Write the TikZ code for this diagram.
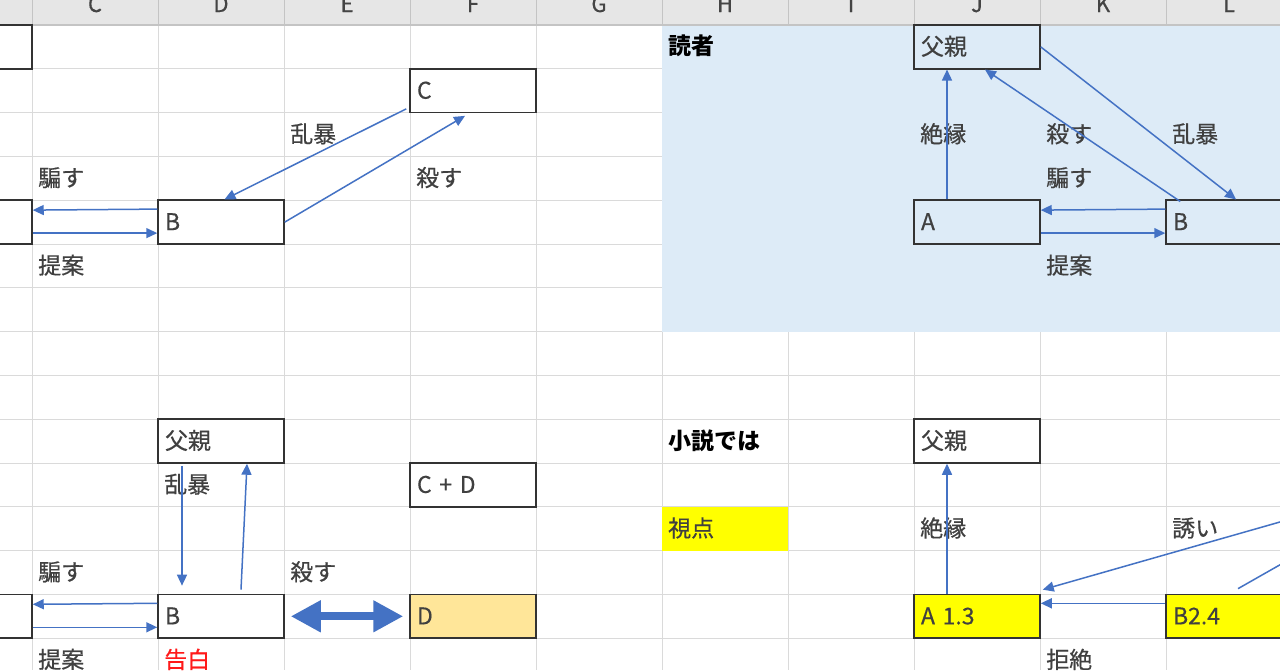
\documentclass[tikz,border=0pt]{standalone}
\usepackage{fontspec}
\newfontfamily\jp{Noto Sans CJK JP}[FakeBold=0.5]
\newfontfamily\jpb{Noto Sans CJK JP}
\usetikzlibrary{arrows.meta,calc}
\definecolor{gridc}{HTML}{DADADA}
\definecolor{headfill}{HTML}{E6E6E6}
\definecolor{headsep}{HTML}{C4C4C4}
\definecolor{headtxt}{HTML}{444444}
\definecolor{readerbg}{HTML}{DDEBF7}
\definecolor{boxc}{HTML}{333333}
\definecolor{txtc}{HTML}{404040}
\definecolor{arrowc}{HTML}{4472C4}
\definecolor{cellyellow}{HTML}{FFFF00}
\definecolor{cellorange}{HTML}{FFE699}
\definecolor{redtxt}{HTML}{FF1A1A}
\begin{document}
\begin{tikzpicture}[x=1pt,y=-1pt,
  gridline/.style={draw=gridc,line width=1pt},
  box/.style={draw=boxc,line width=1.5pt,minimum width=126pt,minimum height=43.8pt,
    inner xsep=7pt,inner ysep=0pt,text width=112pt,align=left,text height=21pt,text depth=5pt,
    font=\jp\fontsize{23}{23}\selectfont,text=txtc},
  lbl/.style={anchor=west,inner xsep=6pt,inner ysep=0pt,text height=21pt,text depth=5pt,
    font=\jp\fontsize{23}{23}\selectfont,text=txtc},
  boldlbl/.style={lbl,font=\jpb\bfseries\fontsize{23}{23}\selectfont,text=black},
  hdr/.style={anchor=base,inner sep=0pt,font=\jp\fontsize{22}{22}\selectfont,text=headtxt},
  conn/.style={draw=arrowc,line width=1.5pt,-{Triangle[length=11pt,width=10pt]}},
  connplain/.style={draw=arrowc,line width=1.5pt},
  bigarr/.style={draw=arrowc,line width=8pt,{Triangle[length=30pt,width=30pt]}-{Triangle[length=30pt,width=30pt]}}
]
\useasboundingbox (0,0) rectangle (1280,670);
\clip (0,0) rectangle (1280,670);
\fill[white] (0,0) rectangle (1280,670);
% grid
\foreach \x in {32,158,...,1166} \draw[gridline] (\x,25) -- (\x,670);
\foreach \k in {1,...,15} \draw[gridline] (0,{25+43.8*\k}) -- (1280,{25+43.8*\k});
% header
\fill[headfill] (0,0) rectangle (1280,25);
\foreach \x in {32,158,...,1166} \draw[draw=headsep,line width=1pt] (\x,0) -- (\x,25);
\draw[draw=headsep,line width=1.8pt] (0,25) -- (1280,25);
\foreach \x/\l in {95/C,221/D,347/E,473/F,599/G,725/H,851/I,977/J,1103/K,1229/L}
  \node[hdr] (h\l) at (\x,12) {\l};
% cell fills
\fill[readerbg] (662,25.9) rectangle (1280,331.6);
\fill[cellyellow] (662,506.8) rectangle (788,550.6);
% boxes
\node[box] (tlA) at (-31,46.9) {};
\node[box] (Cb) at (473,90.7) {C};
\node[box] (Bt) at (221,222.1) {B};
\node[box] (Al) at (-31,222.1) {};
\node[box] (Pt) at (977,46.9) {父親};
\node[box] (At) at (977,222.1) {A};
\node[box] (Btr) at (1229,222.1) {B};
\node[box] (P2) at (221,441.1) {父親};
\node[box] (CD) at (473,484.9) {C + D};
\node[box] (B2) at (221,616.3) {B};
\node[box] (L2) at (-31,616.3) {};
\node[box,fill=cellorange] (Db) at (473,616.3) {D};
\node[box] (P3) at (977,441.1) {父親};
\node[box,fill=cellyellow] (A3) at (977,616.3) {A 1.3};
\node[box,fill=cellyellow] (B3) at (1229,616.3) {B2.4};
% labels
\node[lbl] (l1) at (32,178.3) {騙す};
\node[lbl] (l2) at (32,265.9) {提案};
\node[lbl] (l3) at (284,134.5) {乱暴};
\node[lbl] (l4) at (410,178.3) {殺す};
\node[boldlbl] (l5) at (662,46.9) {読者};
\node[lbl] (l6) at (914,134.5) {絶縁};
\node[lbl] (l7) at (1040,134.5) {殺す};
\node[lbl] (l8) at (1166,134.5) {乱暴};
\node[lbl] (l9) at (1040,178.3) {騙す};
\node[lbl] (l10) at (1040,265.9) {提案};
\node[lbl] (l11) at (158,484.9) {乱暴};
\node[lbl] (l12) at (32,572.5) {騙す};
\node[lbl] (l13) at (284,572.5) {殺す};
\node[lbl] (l14) at (32,660.1) {提案};
\node[lbl,text=redtxt] (l15) at (158,660.1) {告白};
\node[boldlbl] (l16) at (662,441.1) {小説では};
\node[lbl] (l17) at (662,528.7) {視点};
\node[lbl] (l18) at (914,528.7) {絶縁};
\node[lbl] (l19) at (1166,528.7) {誘い};
\node[lbl] (l20) at (1040,660.1) {拒絶};
% top-left arrows
\draw[conn] ([xshift=-3pt,yshift=4.5pt]Cb.south west) -- ([xshift=3.5pt]Bt.north);
\draw[conn] (Bt.east) -- ([xshift=-8pt,yshift=-2.5pt]Cb.south);
\draw[conn] ([yshift=13pt]Bt.west) -- ([yshift=12pt]Al.east);
\draw[conn] ([yshift=-11pt]Al.east) -- ([yshift=-11pt]Bt.west);
% top-right arrows
\draw[conn] ([xshift=-30pt]At.north) -- ([xshift=-30pt]Pt.south);
\draw[conn] ([xshift=15pt,yshift=-2pt]Btr.north west) -- ([xshift=8pt]Pt.south);
\draw[conn] (Pt.east) -- ([xshift=7pt]Btr.north);
\draw[conn] ([yshift=13pt]Btr.west) -- ([yshift=12pt]At.east);
\draw[conn] ([yshift=-11pt]At.east) -- ([yshift=-11pt]Btr.west);
% bottom-left arrows
\draw[conn] ([xshift=-39pt,yshift=-2pt]P2.south) -- ([xshift=-39pt,yshift=8pt]B2.north);
\draw[conn] ([xshift=20pt,yshift=4pt]B2.north) -- ([xshift=26pt]P2.south);
\draw[conn] ([yshift=13pt]B2.west) -- ([yshift=12pt]L2.east);
\draw[conn] ([yshift=-11pt]L2.east) -- ([yshift=-11pt]B2.west);
\draw[bigarr] ([xshift=6pt]B2.east) -- ([xshift=-6pt]Db.west);
% bottom-right arrows
\coordinate (offA) at (1350,502);
\coordinate (offB) at (1350,525);
\draw[conn] ([xshift=-30pt]A3.north) -- ([xshift=-30pt]P3.south);
\draw[conn] (offA) -- ([xshift=2pt,yshift=4pt]A3.north east);
\draw[connplain] ([xshift=9pt,yshift=5pt]B3.north) -- (offB);
\draw[conn] ([yshift=13pt]B3.west) -- ([yshift=13pt]A3.east);
\end{tikzpicture}
\end{document}
